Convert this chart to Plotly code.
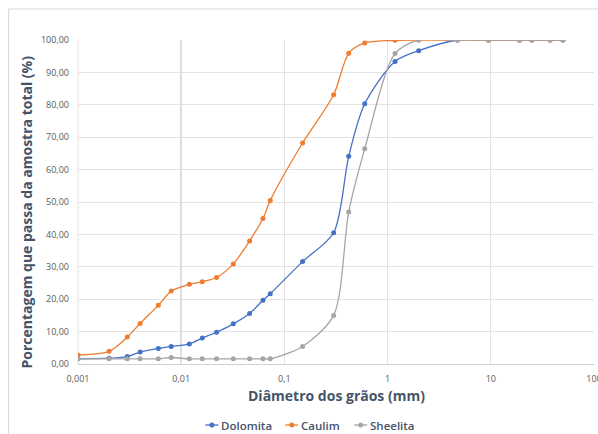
import plotly.graph_objects as go

diam = [0.001, 0.002, 0.003, 0.004, 0.006, 0.008, 0.012, 0.016, 0.022, 0.032, 0.046, 0.062, 0.073,
        0.15, 0.3, 0.42, 0.6, 1.18, 2.0, 4.75, 9.5, 19, 25, 37.5, 50]

dolomita = [1.6, 1.8, 2.3, 3.7, 4.8, 5.4, 6.2, 8.0, 9.8, 12.4, 15.6, 19.7, 21.7,
            31.6, 40.5, 64.1, 80.3, 93.4, 96.7, 100, 100, 100, 100, 100, 100]
caulim = [2.8, 3.9, 8.3, 12.5, 18.1, 22.5, 24.6, 25.4, 26.7, 30.9, 38.0, 44.9, 50.5,
          68.2, 83.1, 95.9, 99.1, 99.9, 100, 100, 100, 100, 100, 100, 100]
sheelita = [1.6, 1.6, 1.6, 1.6, 1.6, 2.0, 1.6, 1.6, 1.6, 1.6, 1.6, 1.6, 1.6,
            5.4, 15.0, 46.9, 66.4, 95.8, 100, 100, 100, 100, 100, 100, 100]

series_names = ["Dolomita", "Caulim", "Sheelita"]
series_colors = ["#4472C4", "#ED7D31", "#A5A5A5"]

x_tickvals = [0.001, 0.01, 0.1, 1, 10, 100]
x_ticktext = ["0,001", "0,01", "0,1", "1", "10", "100"]
y_tickvals = [0, 10, 20, 30, 40, 50, 60, 70, 80, 90, 100]
y_ticktext = ["0,00", "10,00", "20,00", "30,00", "40,00", "50,00", "60,00", "70,00", "80,00", "90,00", "100,00"]

W, H = 598, 434
ML, MR, MT, MB = 77.5, 4, 40, 70
PW, PH = W - ML - MR, H - MT - MB


def px_x(p):
    return (p - ML) / PW


def px_y(p):
    return (H - MB - p) / PH


fig = go.Figure()
for name, vals, col in zip(series_names, [dolomita, caulim, sheelita], series_colors):
    fig.add_trace(go.Scatter(
        x=diam, y=vals, name=name, mode="lines+markers",
        line=dict(color=col, width=1.3, shape="spline", smoothing=0.8),
        marker=dict(color=col, size=5),
        showlegend=False,
    ))

font_fam = "Open Sans, Noto Sans, sans-serif"
title_color = "#44546A"

shapes = [
    dict(type="rect", xref="paper", yref="paper",
         x0=px_x(8), x1=px_x(620), y0=px_y(460), y1=px_y(9),
         line=dict(color="#D9D9D9", width=1), layer="below"),
    dict(type="line", xref="x", yref="paper", x0=0.01, x1=0.01, y0=0, y1=1,
         line=dict(color="#B4BCCB", width=1.5), layer="below"),
    dict(type="line", xref="paper", yref="paper", x0=0, x1=0, y0=0, y1=1,
         line=dict(color="#E3E3E3", width=1), layer="below"),
]
annotations = [
    dict(text="Porcentagem que passa da amostra total (%)", xref="paper", yref="paper",
         x=px_x(25), y=px_y(212), textangle=-90, showarrow=False,
         font=dict(size=14, color=title_color, family=font_fam, weight="bold"),
         xanchor="center", yanchor="middle"),
    dict(text="Diâmetro dos grãos (mm)", xref="paper", yref="paper",
         x=px_x(336), y=px_y(395), showarrow=False,
         font=dict(size=14, color=title_color, family=font_fam, weight="bold"),
         xanchor="center", yanchor="middle"),
]

# manual legend (symbol line + dot + label)
legend_starts = [205, 285, 354]
ly = px_y(425)
for name, col, sx in zip(series_names, series_colors, legend_starts):
    shapes.append(dict(type="line", xref="paper", yref="paper",
                       x0=px_x(sx), x1=px_x(sx + 13), y0=ly, y1=ly,
                       line=dict(color=col, width=1.3)))
    shapes.append(dict(type="circle", xref="paper", yref="paper",
                       x0=px_x(sx + 4), x1=px_x(sx + 9), y0=px_y(427.5), y1=px_y(422.5),
                       line=dict(width=0), fillcolor=col))
    annotations.append(dict(text=name, xref="paper", yref="paper", x=px_x(sx + 14), y=ly,
                            xanchor="left", yanchor="middle", showarrow=False,
                            font=dict(size=11.5, color=title_color, family=font_fam, weight=600)))

fig.update_layout(
    width=W, height=H,
    margin=dict(l=ML, r=MR, t=MT, b=MB),
    paper_bgcolor="white", plot_bgcolor="white",
    font=dict(family=font_fam, color="#595959"),
    showlegend=False,
    xaxis=dict(type="log", range=[-3, 2], tickvals=x_tickvals, ticktext=x_ticktext,
               showgrid=True, gridcolor="#E3E3E3", gridwidth=1,
               showline=True, linecolor="#D0D0D0", mirror=False, zeroline=False,
               ticks="", tickfont=dict(size=9, color="#595959"), ticklabelstandoff=6,
               ticklabeloverflow="allow", automargin=False),
    yaxis=dict(range=[0, 100], tickvals=y_tickvals, ticktext=y_ticktext,
               showgrid=True, gridcolor="#E3E3E3", gridwidth=1,
               showline=False, zeroline=False, ticks="",
               tickfont=dict(size=9, color="#595959"), ticklabelstandoff=8, automargin=False),
    shapes=shapes,
    annotations=annotations,
)

fig.write_html("out.html")
